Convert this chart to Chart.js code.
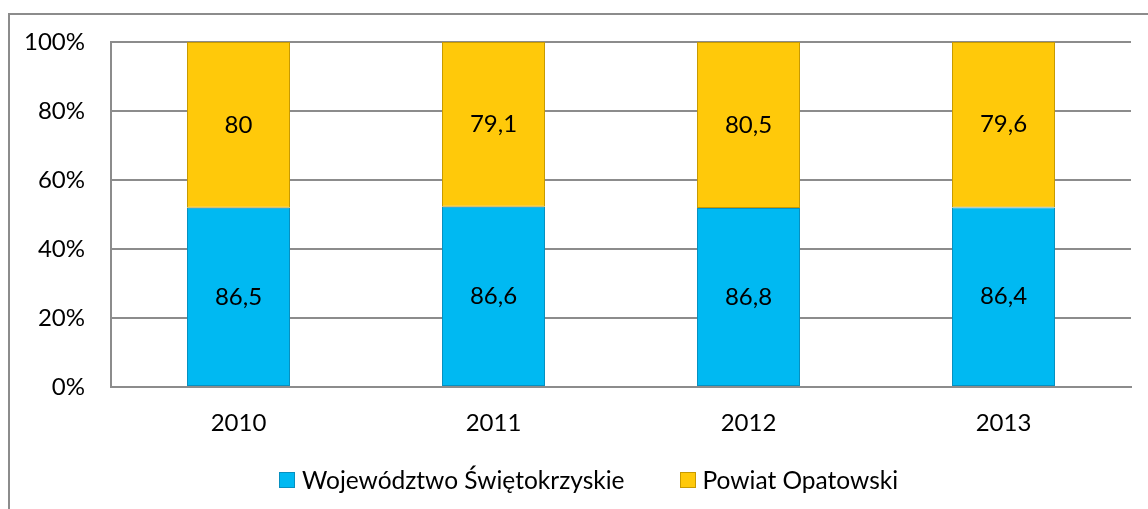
<!DOCTYPE html>
<html>
<head>
<meta charset="utf-8">
<script src="https://cdn.jsdelivr.net/npm/chart.js@4/dist/chart.umd.min.js"></script>
<style>
  html, body { margin: 0; padding: 0; background: #fff; }
  #frame { position: absolute; left: 8px; top: 13px; width: 1200px; height: 600px;
           border-left: 2px solid #8c8c8c; border-top: 2px solid #8c8c8c; }
  #wrap { position: absolute; left: 0; top: 0; width: 1148px; height: 509px; }
  #legend { position: absolute; left: 279px; top: 465px; display: flex; align-items: center;
            font: 24.5px Lato, "Open Sans", sans-serif; color: #000; white-space: nowrap; }
  #legend .item { display: flex; align-items: center; margin-right: 55px; }
  #legend .box { width: 16px; height: 16px; margin-right: 7px; box-sizing: border-box; }
</style>
</head>
<body>
<div id="frame"></div>
<div id="wrap"><canvas id="chart" width="1148" height="509"></canvas></div>
<div id="legend"></div>
<script>
const years = ['2010', '2011', '2012', '2013'];
const seriesNames = ['Województwo Świętokrzyskie', 'Powiat Opatowski'];
const wojewodztwo = [86.5, 86.6, 86.8, 86.4];
const powiat = [80, 79.1, 80.5, 79.6];
const yTicks = [0, 20, 40, 60, 80, 100];

// udział procentowy (wykres 100% skumulowany)
const share = (a, b) => a.map((v, i) => v / (v + b[i]) * 100);

const FONT = 'Lato, "Open Sans", sans-serif';

const valueLabels = {
    id: 'valueLabels',
    afterDatasetsDraw(chart) {
        const ctx = chart.ctx;
        ctx.save();
        ctx.font = '24px ' + FONT;
        ctx.fillStyle = '#000';
        ctx.textAlign = 'center';
        ctx.textBaseline = 'middle';
        chart.data.datasets.forEach((ds, di) => {
            chart.getDatasetMeta(di).data.forEach((bar, i) => {
                const p = bar.getCenterPoint();
                ctx.fillText(String(ds.raw[i]).replace('.', ','), p.x, p.y);
            });
        });
        ctx.restore();
    }
};

const chart = new Chart(document.getElementById('chart'), {
    type: 'bar',
    data: {
        labels: years,
        datasets: [
            { label: seriesNames[0], data: share(wojewodztwo, powiat), raw: wojewodztwo,
              backgroundColor: '#00b9f2', borderColor: '#0790c0', borderWidth: 1, borderSkipped: false },
            { label: seriesNames[1], data: share(powiat, wojewodztwo), raw: powiat,
              backgroundColor: '#ffc90a', borderColor: '#c89a00', borderWidth: 1, borderSkipped: false }
        ]
    },
    options: {
        responsive: false,
        animation: false,
        devicePixelRatio: 1,
        layout: { padding: { top: 42, right: 17, left: 0, bottom: 0 } },
        datasets: { bar: { categoryPercentage: 1, barPercentage: 0.404 } },
        scales: {
            x: {
                stacked: true,
                afterFit(scale) { scale.height = 122; },
                grid: { display: false },
                border: { color: '#8c8c8c', width: 2 },
                ticks: { color: '#000', font: { family: FONT, size: 24 }, padding: 14 }
            },
            y: {
                stacked: true,
                min: 0, max: 100,
                afterFit(scale) { scale.width = 111; },
                afterBuildTicks(scale) { scale.ticks = yTicks.map(v => ({ value: v })); },
                grid: { color: '#8c8c8c', lineWidth: 2, drawTicks: false },
                border: { color: '#8c8c8c', width: 2 },
                ticks: { color: '#000', font: { family: FONT, size: 24 }, padding: 26,
                         callback: v => v + '%' }
            }
        },
        plugins: {
            legend: { display: false },
            tooltip: { enabled: false }
        }
    },
    plugins: [valueLabels]
});

// legenda w HTML, z elementów legendy Chart.js
const legendEl = document.getElementById('legend');
Chart.defaults.plugins.legend.labels.generateLabels(chart).forEach(item => {
    const el = document.createElement('span');
    el.className = 'item';
    const box = document.createElement('span');
    box.className = 'box';
    box.style.background = item.fillStyle;
    box.style.border = '1px solid ' + item.strokeStyle;
    el.appendChild(box);
    el.appendChild(document.createTextNode(item.text));
    legendEl.appendChild(el);
});
</script>
</body>
</html>
